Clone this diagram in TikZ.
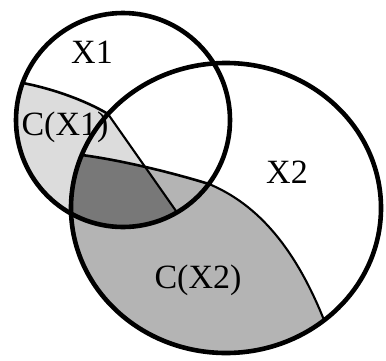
\documentclass[tikz,border=0pt]{standalone}
\usepackage{fontspec}
\setmainfont{Liberation Serif}
\definecolor{lightreg}{RGB}{220,220,220}
\definecolor{midreg}{RGB}{180,180,180}
\definecolor{darkreg}{RGB}{120,120,120}
\begin{document}
\begin{tikzpicture}[x=1pt,y=-1pt,
  lbl/.style={inner sep=0pt,font=\fontsize{34}{34}\selectfont},
  thickring/.style={line width=4.6pt},
  innerline/.style={line width=2.6pt},
  thinline/.style={line width=2.1pt}]
\useasboundingbox (0,0) rectangle (386,360);
\fill[white] (0,0) rectangle (386,360);
% key points
\coordinate (a1) at (22.6,83);
\coordinate (p) at (108,114);
\coordinate (l2) at (177,212.4);
\coordinate (b1) at (81.7,155);
\coordinate (j) at (209,184);
\coordinate (c2) at (324,320);
% C(X2) medium region
\begin{scope}
  \clip (226,208) ellipse[x radius=155,y radius=145];
  \fill[midreg] (0,150) -- (b1) .. controls (120,160) and (170,172) .. (j)
     .. controls (252,202) and (292,240) .. (c2) -- (345,400) -- (0,400) -- cycle;
\end{scope}
% C(X1) light region
\begin{scope}
  \clip (123,120) circle[radius=107];
  \fill[lightreg] (0,80) -- (a1) .. controls (50,88) and (85,100) .. (p)
     -- (l2) -- (200,245) -- (0,245) -- cycle;
\end{scope}
% intersection dark region
\begin{scope}
  \clip (123,120) circle[radius=107];
  \clip (0,80) -- (a1) .. controls (50,88) and (85,100) .. (p)
     -- (l2) -- (200,245) -- (0,245) -- cycle;
  \clip (226,208) ellipse[x radius=155,y radius=145];
  \fill[darkreg] (0,150) -- (b1) .. controls (120,160) and (170,172) .. (j)
     .. controls (252,202) and (292,240) .. (c2) -- (345,400) -- (0,400) -- cycle;
\end{scope}
% boundaries
\draw[innerline] (a1) .. controls (50,88) and (85,100) .. (p);
\draw[thinline] (p) -- (l2);
\draw[innerline] (b1) .. controls (120,160) and (170,172) .. (j);
\draw[thinline] (j) .. controls (252,202) and (292,240) .. (c2);
\draw[thickring] (123,120) circle[radius=107];
\draw[thickring] (226,208) ellipse[x radius=155,y radius=145];
% labels
\node[lbl] (lx1) at (92,52) {X1};
\node[lbl] (lcx1) at (65,127) {C(X1)};
\node[lbl] (lx2) at (287,172) {X2};
\node[lbl] (lcx2) at (198,280) {C(X2)};
\end{tikzpicture}
\end{document}
